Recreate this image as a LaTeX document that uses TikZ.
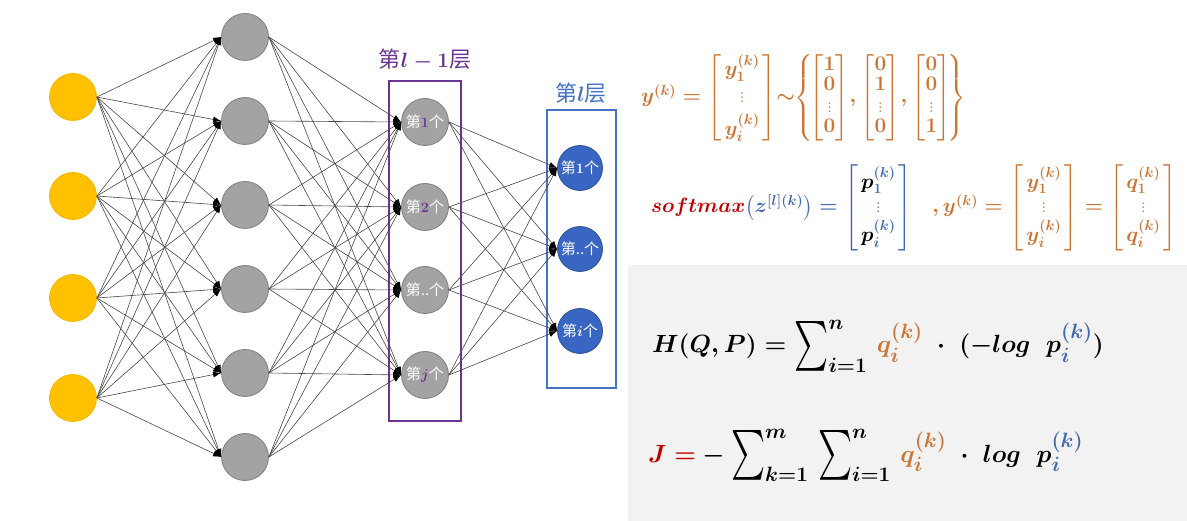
\documentclass[tikz,border=0pt]{standalone}
\usepackage{amsmath}
\usepackage{bm}
\usepackage{fontspec}
\newfontfamily\cjk{Noto Sans CJK SC}
\usetikzlibrary{positioning, arrows.meta, calc}
\DeclareMathSizes{28}{28}{21}{16}

\definecolor{ingold}{HTML}{FFC000}
\definecolor{ingoldd}{HTML}{F2B800}
\definecolor{hidgray}{HTML}{A3A3A3}
\definecolor{hidgrayd}{HTML}{7F7F7F}
\definecolor{outblue}{HTML}{3966C2}
\definecolor{outblued}{HTML}{2F528F}
\definecolor{boxpurple}{HTML}{6B3593}
\definecolor{boxblue}{HTML}{4472C4}
\definecolor{eqorange}{HTML}{CC7534}
\definecolor{eqred}{HTML}{C00000}
\definecolor{eqblue}{HTML}{4269B0}
\definecolor{panel}{HTML}{F2F2F2}

% formulas are set outside the picture (TikZ takes over \matrix inside it)
\newcommand{\colvec}[2][3pt]{\left[\begin{array}{@{\kern#1}c@{\kern#1}}#2\end{array}\right]}
\newcommand{\bigsum}{\mathop{\vcenter{\hbox{\scalebox{1.3}[2.0]{$\textstyle\sum$}}}}\nolimits}
\newsavebox{\onehotbox}
\newsavebox{\softmaxbox}
\newsavebox{\crossbox}
\newsavebox{\costbox}

\tikzset{
  neuron/.style={circle, draw, line width=0.8pt, minimum size=47pt, inner sep=0pt,
    font=\cjk\boldmath\fontsize{15}{15}\selectfont, text=white},
  inneuron/.style={neuron, fill=ingold, draw=ingoldd},
  hidneuron/.style={neuron, fill=hidgray, draw=hidgrayd},
  outneuron/.style={neuron, minimum size=45pt, fill=outblue, draw=outblued},
  layerbox/.style={draw, line width=2.2pt},
  layerlabel/.style={font=\cjk\boldmath\fontsize{22}{22}\selectfont},
  conn/.style={draw=black!72, line width=0.6pt, -{Latex[length=8pt, width=6pt, black]}},
  formula/.style={anchor=base west, inner sep=0pt}
}

\begin{document}
\sbox{\onehotbox}{\fontsize{20}{20}\selectfont\color{eqorange}\boldmath
  $y^{(k)}=\colvec{y_1^{(k)}\\[5pt] \vdots\\[5pt] y_i^{(k)}}\!{\sim}\!
  \left\{\!\colvec[0.5pt]{1\\0\\\vdots\\0}\!,\colvec[0.5pt]{0\\1\\\vdots\\0}\!,
  \colvec[0.5pt]{0\\0\\\vdots\\1}\!\right\}$}
\sbox{\softmaxbox}{\fontsize{20}{24}\selectfont\boldmath
  $\textcolor{eqred}{softmax}\textcolor{eqblue}{\big(z^{[l](k)}\big)=
  \colvec{\textcolor{black}{p}_1^{(k)}\\ \vdots\\ \textcolor{black}{p}_i^{(k)}}}
  \quad\textcolor{eqorange}{,y^{(k)}=\colvec{y_1^{(k)}\\ \vdots\\ y_i^{(k)}}
  =\colvec{q_1^{(k)}\\ \vdots\\ q_i^{(k)}}}$}
\sbox{\crossbox}{\fontsize{28}{32}\selectfont\boldmath
  $H(Q,P)=\bigsum_{i=1}^{n}\,\textcolor{eqorange}{q_i^{(k)}}\;\cdot\;
  (-log\;\;p\textcolor{eqblue}{{}_i^{(k)}})$}
\sbox{\costbox}{\fontsize{28}{32}\selectfont\boldmath
  $\textcolor{eqred}{J=}-\bigsum_{k=1}^{m}\,\bigsum_{i=1}^{n}\,
  \textcolor{eqorange}{q_i^{(k)}}\;\cdot\;log\;\;p\textcolor{eqblue}{{}_i^{(k)}}$}
\begin{tikzpicture}[x=1pt, y=-1pt]
  \useasboundingbox (0,0) rectangle (1187,521);
  \fill[panel] (628,265) rectangle (1187,521);

  % Nodes
  \foreach \i/\y in {1/97, 2/196, 3/298, 4/398}
  \node[inneuron] (input\i) at (73,\y) {};
  \foreach \i in {1,...,6}
  \node[hidneuron] (hidden\i) at (245,{37+84*(\i-1)}) {};
  \node[hidneuron] (prev1) at (425,122) {第\textcolor{boxpurple}{$1$}个};
  \node[hidneuron] (prev2) at (425,207) {第\textcolor{boxpurple}{$2$}个};
  \node[hidneuron] (prev3) at (425,290) {第..个};
  \node[hidneuron] (prev4) at (425,375) {第\textcolor{boxpurple}{$j$}个};
  \node[outneuron] (out1) at (580,168) {第$1$个};
  \node[outneuron] (out2) at (580,249) {第..个};
  \node[outneuron] (out3) at (580,331) {第$i$个};

  % Layer boxes
  \draw[layerbox, boxpurple] (389,81) rectangle (461,421);
  \draw[layerbox, boxblue] (547,110) rectangle (616,388);
  \node[layerlabel, text=boxpurple] (prevlabel) at (425,60) {第$l-1$层};
  \node[layerlabel, text=boxblue] (outlabel) at (581,93) {第$l$层};

  % Arrows
  \foreach \i in {1,...,4}
  \foreach \j in {1,...,6}
  \draw[conn] (input\i.east) -- (hidden\j.west);
  \foreach \i in {1,...,6}
  \foreach \j in {1,...,4}
  \draw[conn] (hidden\i.east) -- (prev\j.west);
  \foreach \i in {1,...,4}
  \foreach \j in {1,...,3}
  \draw[conn] (prev\i.east) -- (out\j.west);

  % Formulas
  \node[formula] (onehot) at (641,103) {\usebox{\onehotbox}};
  \node[formula] (softmax) at (651,213) {\usebox{\softmaxbox}};
  \node[formula] (crossent) at (652,353) {\usebox{\crossbox}};
  \node[formula] (cost) at (648,462) {\usebox{\costbox}};
\end{tikzpicture}
\end{document}
